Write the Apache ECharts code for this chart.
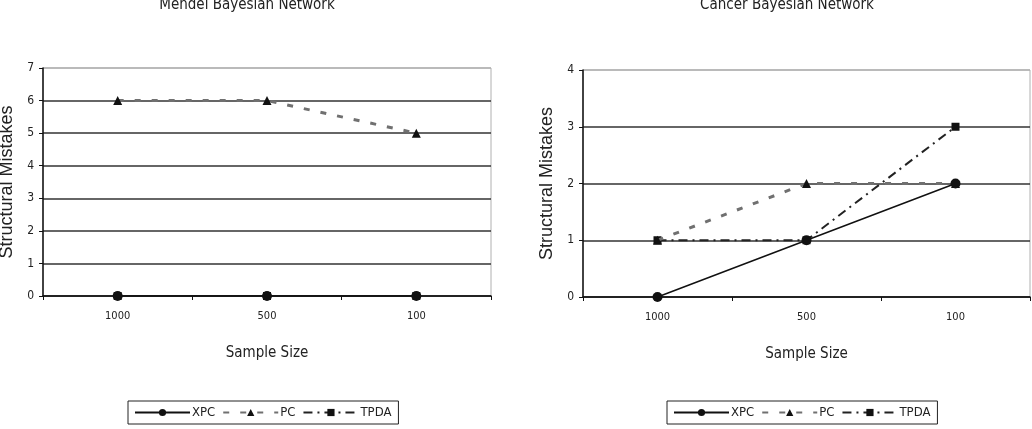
<!DOCTYPE html>
<html>
<head>
<meta charset="utf-8">
<script src="https://cdn.jsdelivr.net/npm/echarts@6/dist/echarts.min.js"></script>
<style>
  html, body { margin: 0; padding: 0; background: #fff; }
  #wrap { width: 1032px; height: 429px; display: flex; }
  .pane { width: 516px; height: 429px; }
</style>
</head>
<body>
<div id="wrap">
  <div id="left" class="pane"></div>
  <div id="right" class="pane"></div>
</div>
<script>
// sample sizes on the x axis
const sampleSizes = ['1000', '500', '100'];

// Mendel network: structural mistakes per method
const mendelXPC = [0, 0, 0];
const mendelPC = [6, 6, 5];
const mendelTPDA = [0, 0, 0];

// Cancer network
const cancerXPC = [0, 1, 2];
const cancerPC = [1, 2, 2];
const cancerTPDA = [1, 1, 3];

const narrow = '"Liberation Sans Narrow", "DejaVu Sans Condensed", "Arial Narrow", "Liberation Sans", sans-serif';
const sans = '"Liberation Sans", Arial, sans-serif';

function buildSeries(xpc, pc, tpda) {
  return [
    {
      name: 'TPDA', type: 'line', data: tpda, z: 3,
      symbol: 'rect', symbolSize: 8,
      itemStyle: { color: '#111' },
      lineStyle: { color: '#222', width: 2, type: [9, 5, 2, 5] }
    },
    {
      name: 'PC', type: 'line', data: pc, z: 4,
      symbol: 'triangle', symbolSize: 9,
      itemStyle: { color: '#111' },
      lineStyle: { color: '#707070', width: 3, type: [6, 11] }
    },
    {
      name: 'XPC', type: 'line', data: xpc, z: 5,
      symbol: 'circle', symbolSize: 10,
      itemStyle: { color: '#111' },
      lineStyle: { color: '#111', width: 1.5, type: 'solid' }
    }
  ];
}

function makeChart(el, cfg) {
  const chart = echarts.init(el, null, { renderer: 'canvas' });
  // one colour per gridline, the top one is the light plot border
  const gridColors = [];
  for (let i = 0; i < cfg.max; i++) gridColors.push('#333');
  gridColors.push('#b0b0b0');

  chart.setOption({
    animation: false,
    title: {
      text: cfg.title,
      left: cfg.titleX,
      textAlign: 'center',
      top: -7,
      textStyle: { fontFamily: narrow, fontSize: 15, fontWeight: 'normal', color: '#222' }
    },
    legend: {
      data: ['XPC', 'PC', 'TPDA'],
      left: cfg.legendLeft,
      top: 401,
      itemWidth: 55,
      itemHeight: 9,
      itemGap: 7,
      padding: [5, 7, 5, 6],
      borderColor: '#222',
      borderWidth: 1,
      textStyle: { fontFamily: narrow, fontSize: 13, color: '#222', padding: [0, 0, 0, -3] }
    },
    grid: {
      left: cfg.grid.left, right: cfg.grid.right, top: cfg.grid.top, bottom: cfg.grid.bottom,
      outerBoundsMode: 'none',
      containLabel: false,
      show: true, borderColor: '#b0b0b0', borderWidth: 1
    },
    xAxis: {
      type: 'category',
      data: sampleSizes,
      boundaryGap: true,
      name: 'Sample Size',
      nameLocation: 'middle',
      nameGap: 50,
      nameTextStyle: { fontFamily: narrow, fontSize: 15, color: '#222' },
      axisLine: { lineStyle: { color: '#111', width: 1.5 } },
      axisTick: { show: true, length: 4, lineStyle: { color: '#111' } },
      axisLabel: { margin: 15, fontFamily: narrow, fontSize: 11, color: '#222' },
      splitLine: { show: false }
    },
    yAxis: {
      type: 'value',
      min: 0,
      max: cfg.max,
      interval: 1,
      name: 'Structural Mistakes',
      nameLocation: 'middle',
      nameGap: cfg.nameGap,
      nameTextStyle: { fontFamily: sans, fontSize: 18, color: '#222' },
      axisLine: { show: true, lineStyle: { color: '#111', width: 1.5 } },
      axisTick: { show: true, length: 4, lineStyle: { color: '#111' } },
      axisLabel: { margin: 9, fontFamily: narrow, fontSize: 12, color: '#222' },
      splitLine: { show: true, lineStyle: { color: gridColors, width: 1.5 } }
    },
    series: buildSeries(cfg.xpc, cfg.pc, cfg.tpda)
  });
  return chart;
}

makeChart(document.getElementById('left'), {
  title: 'Mendel Bayesian Network',
  titleX: 242,
  legendLeft: 128,
  grid: { left: 43, right: 25, top: 68, bottom: 133 },
  max: 7,
  nameGap: 25,
  xpc: mendelXPC, pc: mendelPC, tpda: mendelTPDA
});

makeChart(document.getElementById('right'), {
  title: 'Cancer Bayesian Network',
  titleX: 266,
  legendLeft: 151,
  grid: { left: 67, right: 2, top: 70, bottom: 132 },
  max: 4,
  nameGap: 26,
  xpc: cancerXPC, pc: cancerPC, tpda: cancerTPDA
});
</script>
</body>
</html>
